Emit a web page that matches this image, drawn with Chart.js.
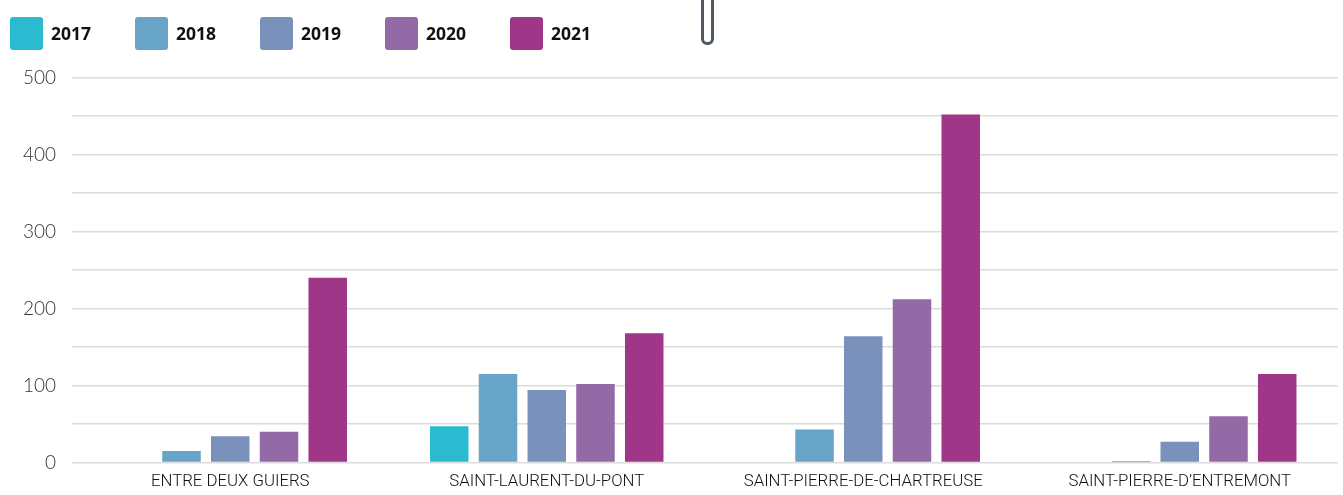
<!DOCTYPE html>
<html><head><meta charset="utf-8">
<script src="https://cdn.jsdelivr.net/npm/chart.js@4"></script>
<style>
html,body{margin:0;padding:0;background:#fff;overflow:hidden}
#wrap{position:relative;width:1343px;height:495px;overflow:hidden}
#legend{position:absolute;left:10px;top:17px;display:flex}
.item{display:flex;align-items:center;width:125px;height:33px;font:700 17.5px "Open Sans",sans-serif;color:#111}
.item b{font-weight:700;position:relative;top:-1px}
.box{width:33px;height:33px;border-radius:3px;margin-right:8px}
#clip{position:absolute;left:701px;top:-12px;width:7px;height:51px;border:3px solid #4f5964;border-radius:0 0 6px 6px;box-sizing:content-box}
canvas{position:absolute;left:0;top:0}
</style></head>
<body><div id="wrap">
<canvas id="c" width="1343" height="495"></canvas>
<div id="legend"></div><div id="clip"></div>
</div>
<script>
const categories=["ENTRE DEUX GUIERS","SAINT-LAURENT-DU-PONT","SAINT-PIERRE-DE-CHARTREUSE","SAINT-PIERRE-D\u2019ENTREMONT"];
const years=["2017","2018","2019","2020","2021"];
const colors=["#2bbbd0","#68a4c8","#7a91bb","#9369a6","#9f3688"];
const v2017=[0,47,0,0];
const v2018=[15,115,43,2];
const v2019=[34,94,164,27];
const v2020=[40,102,212,60];
const v2021=[240,168,452,115];
const series=[v2017,v2018,v2019,v2020,v2021];
const legend=document.getElementById('legend');
years.forEach((y,i)=>{const d=document.createElement('div');d.className='item';
 d.innerHTML='<span class="box" style="background:'+colors[i]+'"></span><b>'+y+'</b>';legend.appendChild(d);});
new Chart(document.getElementById('c'),{
 type:'bar',
 data:{labels:categories,datasets:years.map((y,i)=>({label:y,data:series[i],backgroundColor:colors[i],borderWidth:0,categoryPercentage:0.77,barPercentage:0.79}))},
 options:{responsive:false,animation:false,
  layout:{padding:{top:77.5,right:5,left:0,bottom:0}},
  plugins:{legend:{display:false},tooltip:{enabled:false}},
  scales:{
   x:{grid:{display:false},border:{display:false},
      ticks:{color:'#111',font:{family:'Roboto',size:16.8,weight:'300'},padding:1,maxRotation:0,autoSkip:false},
      afterFit(s){s.height=32.5;}},
   y:{min:0,max:500,border:{display:false},
      grid:{color:'#dcdcdc',lineWidth:1.4,drawTicks:false},
      ticks:{stepSize:50,color:'#333',font:{family:'Lato',size:19,weight:'300'},padding:16,
        callback:v=>v%100===0?v:''},
      afterFit(s){s.width=72;}}
  }}
});
</script></body></html>
